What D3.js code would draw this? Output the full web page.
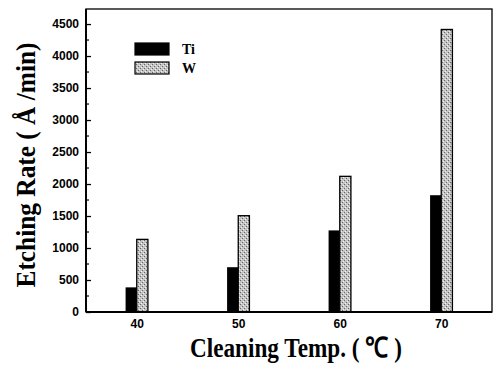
<!DOCTYPE html>
<html>
<head>
<meta charset="utf-8">
<script src="https://cdn.jsdelivr.net/npm/d3@7"></script>
<style>
  html,body{margin:0;padding:0;background:#fff;}
  svg{display:block;}
  .tick text{font-family:"Liberation Sans",Arial,sans-serif;font-weight:bold;font-size:12px;fill:#000;}
</style>
</head>
<body>
<svg id="chart" width="493" height="367"></svg>
<script>
/* ===== Data ===== */
const temps = [40, 50, 60, 70];
const tiRate = [385, 700, 1275, 1825];
const wRate = [1135, 1505, 2120, 4415];
const seriesNames = ['Ti', 'W'];
const yTicks = [0, 500, 1000, 1500, 2000, 2500, 3000, 3500, 4000, 4500];

/* ===== Layout ===== */
const svg = d3.select('#chart');
const m = {l:86, t:9, r:492, b:312};
const x = d3.scaleLinear().domain([35, 75]).range([m.l, m.r]);
const y = d3.scaleLinear().domain([0, 4735]).range([m.b, m.t]);
const barW = x(36.1) - x(35);

// grainy pattern for W bars
const defs = svg.append('defs');
const pat = defs.append('pattern').attr('id','grain').attr('patternUnits','userSpaceOnUse')
  .attr('width',4).attr('height',4);
pat.append('rect').attr('width',4).attr('height',4).attr('fill','#c4c4c4');
pat.append('rect').attr('x',0).attr('y',0).attr('width',1).attr('height',1).attr('fill','#666');
pat.append('rect').attr('x',2).attr('y',2).attr('width',1).attr('height',1).attr('fill','#666');
pat.append('rect').attr('x',1).attr('y',3).attr('width',1).attr('height',1).attr('fill','#f2f2f2');
pat.append('rect').attr('x',3).attr('y',1).attr('width',1).attr('height',1).attr('fill','#f2f2f2');

/* ===== Bars ===== */
const g = svg.append('g');
g.selectAll('.ti').data(temps).enter().append('rect').attr('class','ti')
  .attr('x', d => x(d) - barW).attr('width', barW)
  .attr('y', (d,i) => y(tiRate[i])).attr('height', (d,i) => y(0) - y(tiRate[i]))
  .attr('fill','#000');
g.selectAll('.w').data(temps).enter().append('rect').attr('class','w')
  .attr('x', d => x(d)).attr('width', barW)
  .attr('y', (d,i) => y(wRate[i])).attr('height', (d,i) => y(0) - y(wRate[i]))
  .attr('fill','url(#grain)').attr('stroke','#000').attr('stroke-width',1.3);

/* ===== Axes ===== */
const yAxis = d3.axisLeft(y).tickValues(yTicks).tickFormat(d3.format('d')).tickSize(-5).tickPadding(7);
const yG = svg.append('g').attr('transform',`translate(${m.l},0)`).call(yAxis);
yG.select('.domain').remove();
yG.selectAll('.tick line').attr('stroke','#000').attr('stroke-width',1.3);
// minor ticks
svg.append('g').selectAll('line').data(yTicks.slice(0,-1).map(v => v + 250)).enter().append('line')
  .attr('x1', m.l).attr('x2', m.l + 3).attr('y1', d => y(d)).attr('y2', d => y(d))
  .attr('stroke','#000').attr('stroke-width',1.2);

const xAxis = d3.axisBottom(x).tickValues(temps).tickSize(0).tickPadding(7);
const xG = svg.append('g').attr('transform',`translate(0,${m.b})`).call(xAxis);
xG.select('.domain').remove();

// frame
svg.append('rect').attr('x', m.l).attr('y', m.t).attr('width', m.r - m.l).attr('height', m.b - m.t)
  .attr('fill','none').attr('stroke','#000').attr('stroke-width',1.3);
svg.append('line').attr('x1',m.l).attr('x2',m.l).attr('y1',m.t).attr('y2',m.b).attr('stroke','#000').attr('stroke-width',2);
svg.append('line').attr('x1',m.l).attr('x2',m.r).attr('y1',m.b).attr('y2',m.b).attr('stroke','#000').attr('stroke-width',2);

/* ===== Legend ===== */
const leg = svg.append('g');
seriesNames.forEach((name,i) => {
  const yy = 43 + i*19;
  leg.append('rect').attr('x',135).attr('y',yy).attr('width',34).attr('height',12)
    .attr('fill', i===0 ? '#000' : 'url(#grain)').attr('stroke','#000').attr('stroke-width',1.2);
  leg.append('text').attr('x',182).attr('y',yy+11).text(name)
    .attr('font-family','"Liberation Serif","Times New Roman",serif').attr('font-weight','bold').attr('font-size',14);
});

/* ===== Titles ===== */
svg.append('text').attr('transform','translate(35,165) rotate(-90)').attr('text-anchor','middle')
  .attr('font-family','"Liberation Serif","Times New Roman",serif').attr('font-weight','bold').attr('font-size',28)
  .attr('textLength',245).attr('lengthAdjust','spacingAndGlyphs')
  .text('Etching Rate ( Å /min)');
svg.append('text').attr('x',296).attr('y',357).attr('text-anchor','middle')
  .attr('font-family','"Liberation Serif","Times New Roman",serif').attr('font-weight','bold').attr('font-size',28)
  .attr('textLength',212).attr('lengthAdjust','spacingAndGlyphs')
  .text('Cleaning Temp. ( ℃ )');
</script>
</body>
</html>
